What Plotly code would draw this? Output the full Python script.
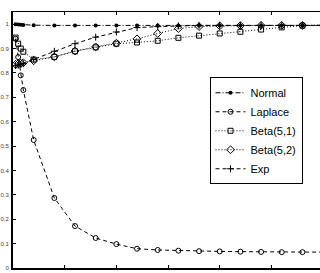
import plotly.graph_objects as go

x = [0.025, 0.05, 0.075, 0.1, 0.2, 0.4, 0.6, 0.8, 1.0, 1.2, 1.4, 1.6, 1.8, 2.0, 2.2, 2.4, 2.6, 2.8, 3.0]

normal = [1.0, 0.999, 0.998, 0.997, 0.996, 0.995, 0.995, 0.995, 0.995, 0.995, 0.995, 0.995, 0.995,
          0.995, 0.995, 0.995, 0.995, 0.995, 0.995]
laplace = [0.94, 0.865, 0.79, 0.73, 0.525, 0.287, 0.172, 0.123, 0.098, 0.079, 0.074, 0.071, 0.069,
           0.068, 0.067, 0.066, 0.065, 0.065, 0.065]
beta51 = [0.945, 0.92, 0.9, 0.887, 0.855, 0.866, 0.889, 0.905, 0.92, 0.925, 0.932, 0.944, 0.953,
          0.962, 0.969, 0.978, 0.987, 0.994, 0.997]
beta52 = [0.835, 0.838, 0.84, 0.842, 0.85, 0.866, 0.89, 0.907, 0.922, 0.94, 0.962, 0.982, 0.99,
          0.993, 0.994, 0.995, 0.995, 0.995, 0.995]
expo = [0.83, 0.832, 0.835, 0.838, 0.856, 0.889, 0.92, 0.947, 0.968, 0.986, 0.99, 0.993, 0.995,
        0.995, 0.995, 0.995, 0.995, 0.995, 0.995]

xticks = [0, 0.5, 1, 1.5, 2, 2.5]
xticklabels = ["0", "0.5", "1", "1.5", "2", "2.5"]
yticks = [0, 0.1, 0.2, 0.3, 0.4, 0.5, 0.6, 0.7, 0.8, 0.9, 1]
yticklabels = ["0", "0.1", "0.2", "0.3", "0.4", "0.5", "0.6", "0.7", "0.8", "0.9", "1"]

series = [
    ("Normal", normal, "5px,2px,1px,2px", dict(symbol="circle", size=4, color="black")),
    ("Laplace", laplace, "4px,3px", dict(symbol="circle-open", size=5, color="black", line=dict(width=1))),
    ("Beta(5,1)", beta51, "1px,2px", dict(symbol="square-open", size=5, color="black", line=dict(width=1))),
    ("Beta(5,2)", beta52, "1px,2px", dict(symbol="diamond-open", size=6, color="black", line=dict(width=1))),
    ("Exp", expo, "4px,3px", dict(symbol="cross-thin-open", size=5, color="black", line=dict(width=1))),
]

fig = go.Figure()
for name, ys, dash, mk in series:
    fig.add_trace(go.Scatter(x=x, y=ys, name=name, mode="lines+markers",
                             line=dict(color="black", width=1, dash=dash), marker=mk))

fig.update_layout(
    width=320, height=273,
    margin=dict(l=13, r=0, t=12, b=5),
    paper_bgcolor="white", plot_bgcolor="white",
    font=dict(family="Arial, Liberation Sans, sans-serif", color="black"),
    showlegend=True,
    legend=dict(x=0.943, y=0.745, xanchor="right", yanchor="top",
                bgcolor="white", bordercolor="black", borderwidth=1,
                font=dict(size=11, color="black"), itemwidth=30, tracegroupgap=0),
    xaxis=dict(range=[0, 2.97], tickvals=xticks, ticktext=xticklabels, automargin=False,
               showgrid=False, zeroline=False, showline=True, linecolor="black", linewidth=2,
               ticks="inside", ticklen=3, tickcolor="black",
               tickfont=dict(size=6, color="#444")),
    xaxis2=dict(range=[0, 2.97], overlaying="x", side="top", tickvals=xticks, automargin=False,
                showticklabels=False, showgrid=False, zeroline=False, showline=True,
                linecolor="black", linewidth=1, ticks="inside", ticklen=3, tickcolor="black"),
    yaxis=dict(range=[0, 1.05], tickvals=yticks, ticktext=yticklabels, automargin=False,
               showgrid=False, zeroline=False, showline=True, linecolor="black", linewidth=2,
               ticks="inside", ticklen=3, tickcolor="black", ticklabelstandoff=1,
               tickfont=dict(size=6, color="#444")),
)
fig.add_trace(go.Scatter(x=[0], y=[0], xaxis="x2", mode="markers", marker=dict(opacity=0),
                         showlegend=False, hoverinfo="skip"))

fig.write_html("out.html", config={"displayModeBar": False},
               post_script="document.body.style.margin='0px';document.body.style.overflow='hidden';")
